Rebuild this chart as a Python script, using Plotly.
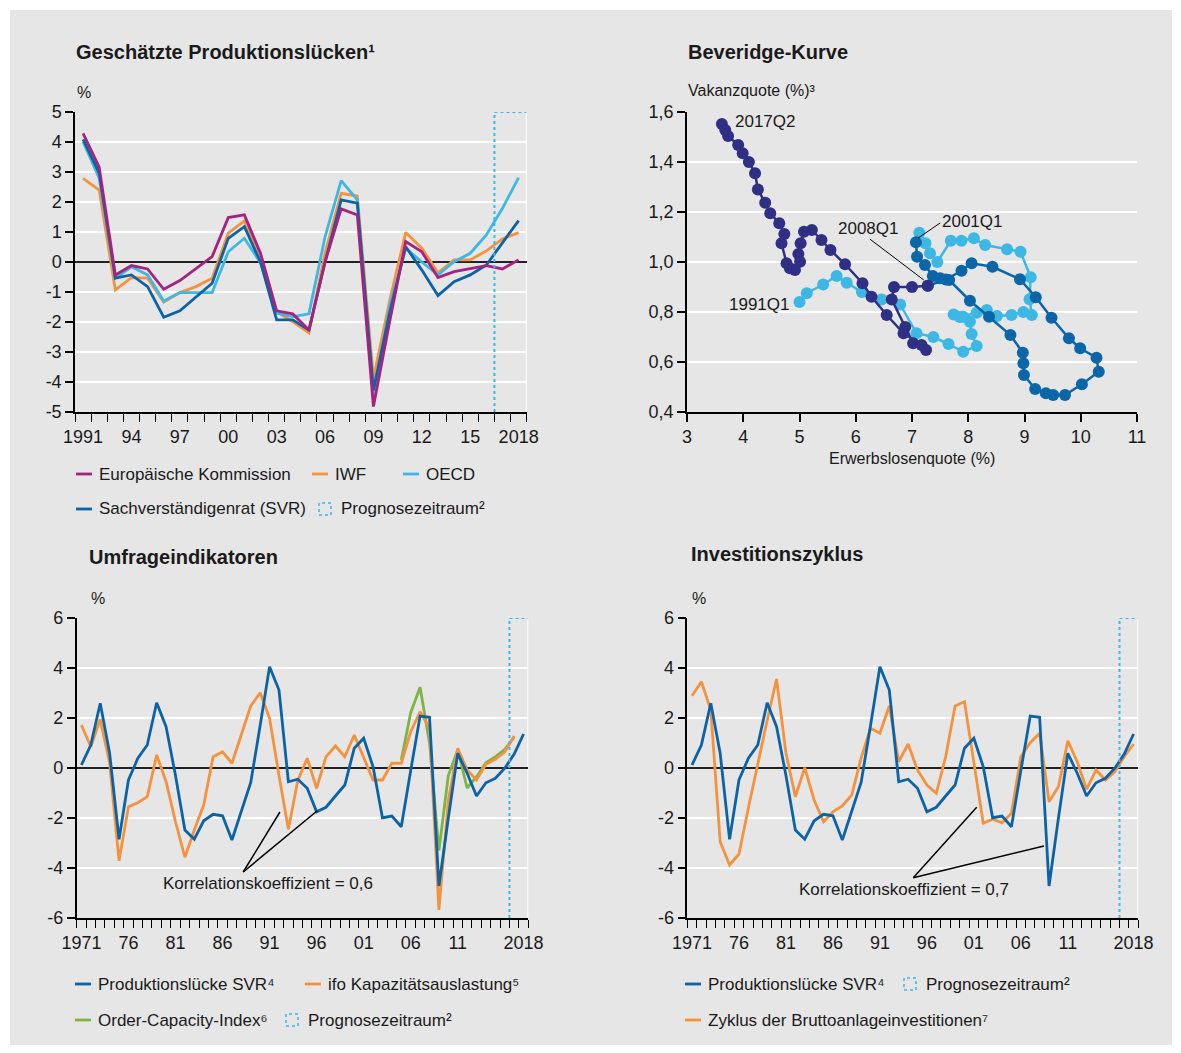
import plotly.graph_objects as go

W, H = 1181, 1053
def PX(x): return x / W
def PY(y): return 1 - y / H

FONT = "Liberation Sans"
TXT = "#1a1a1a"
C_EK = "#a3237f"
C_IWF = "#f5923e"
C_OECD = "#3db7e4"
C_SVR = "#0b63a6"
C_GREEN = "#7db544"
C_NAVY = "#2f2f86"
C_MID = "#0b66a8"
C_LIGHT = "#3db7e4"
BG = "#e6e6e6"

# ---------------- Data ----------------
years_tl = list(range(1991, 2019))
ek = [4.29, 3.16, -0.43, -0.12, -0.23, -0.91, -0.62, -0.21, 0.18, 1.48, 1.57, 0.29, -1.63, -1.73,
      -2.27, 0.0, 1.77, 1.57, -4.82, -2.0, 0.68, 0.34, -0.52, -0.32, -0.21, -0.12, -0.23, 0.07]
iwf = [2.79, 2.4, -0.93, -0.52, -0.54, -1.34, -1.02, -0.82, -0.54, 0.96, 1.37, 0.23, -1.66, -1.99,
       -2.36, 0.3, 2.29, 2.2, -3.88, -1.3, 0.98, 0.46, -0.36, 0.07, 0.07, 0.37, 0.77, 0.98]
oecd = [4.01, 2.79, -0.54, -0.16, -0.43, -1.3, -1.02, -1.02, -1.02, 0.34, 0.79, -0.03, -1.7, -1.82,
        -1.73, 0.84, 2.71, 2.07, -4.49, -1.5, 0.46, 0.0, -0.43, 0.01, 0.29, 0.9, 1.79, 2.81]
svr_tl = [4.09, 2.96, -0.54, -0.43, -0.82, -1.84, -1.63, -1.16, -0.71, 0.79, 1.18, 0.0, -1.93, -1.93,
          -2.27, 0.0, 2.07, 1.96, -4.27, -1.7, 0.51, -0.27, -1.12, -0.66, -0.43, -0.1, 0.62, 1.38]
tl_ticks = [1991, 1994, 1997, 2000, 2003, 2006, 2009, 2012, 2015, 2018]
tl_ticktext = ["1991", "94", "97", "00", "03", "06", "09", "12", "15", "2018"]
forecast_start = 2017

# Beveridge curve: unemployment rate (x), vacancy rate (y)
bev_9101_x = [5.00, 5.13, 5.42, 5.66, 5.84, 6.11, 6.46, 6.79, 7.08, 7.38, 7.65, 7.91, 8.15, 8.06, 8.03,
              7.91, 7.74, 7.85, 8.15, 8.33, 8.51, 8.77, 8.98, 9.13, 9.09, 9.11, 8.93, 8.69, 8.30, 8.10,
              7.88, 7.69, 7.45, 7.32, 7.24, 7.13]
bev_9101_y = [0.84, 0.875, 0.91, 0.944, 0.917, 0.88, 0.85, 0.83, 0.715, 0.70, 0.672, 0.641, 0.664, 0.712,
              0.761, 0.781, 0.79, 0.78, 0.797, 0.808, 0.784, 0.788, 0.80, 0.788, 0.851, 0.939, 1.041,
              1.051, 1.068, 1.095, 1.085, 1.085, 1.00, 1.035, 1.075, 1.117]
bev_0108_x = [7.07, 7.09, 7.23, 7.37, 7.50, 7.66, 8.03, 8.37, 8.75, 8.97, 8.98, 8.99, 9.19, 9.38, 9.51,
              9.72, 10.02, 10.32, 10.28, 9.99, 9.79, 9.48, 9.20, 8.92, 8.43, 8.06, 7.88, 7.60, 7.28]
bev_0108_y = [1.079, 1.021, 0.988, 0.944, 0.935, 0.928, 0.845, 0.781, 0.708, 0.637, 0.595, 0.548, 0.492,
              0.475, 0.468, 0.468, 0.511, 0.561, 0.617, 0.655, 0.695, 0.777, 0.859, 0.931, 0.981, 0.995,
              0.965, 0.93, 0.905]
bev_0817_x = [7.28, 7.00, 6.68, 6.64, 6.88, 7.02, 7.25, 7.17, 6.85, 6.55, 6.28, 6.12, 5.81, 5.55, 5.39,
              5.22, 5.08, 5.02, 4.98, 5.01, 4.92, 4.83, 4.77, 4.68, 4.73, 4.64, 4.48, 4.39, 4.26, 4.21,
              4.10, 3.99, 3.91, 3.73, 3.68, 3.62]
bev_0817_y = [0.905, 0.90, 0.90, 0.85, 0.74, 0.675, 0.648, 0.668, 0.715, 0.788, 0.861, 0.915, 0.991, 1.048,
              1.088, 1.128, 1.121, 1.075, 1.032, 1.001, 0.968, 0.975, 0.995, 1.075, 1.112, 1.155, 1.195,
              1.237, 1.29, 1.355, 1.40, 1.435, 1.468, 1.504, 1.528, 1.552]
bev_xticks = [3, 4, 5, 6, 7, 8, 9, 10, 11]
bev_yticks = [0.4, 0.6, 0.8, 1.0, 1.2, 1.4, 1.6]
bev_yticktext = ["0,4", "0,6", "0,8", "1,0", "1,2", "1,4", "1,6"]

years_b = list(range(1971, 2019))
svr_b = [0.12, 0.92, 2.59, 0.59, -2.85, -0.48, 0.39, 0.92, 2.61, 1.65,
         -0.3, -2.48, -2.85, -2.11, -1.85, -1.91, -2.88, -1.75, -0.58, 1.7,
         4.05, 3.12, -0.55, -0.45, -0.81, -1.75, -1.57, -1.12, -0.68, 0.79,
         1.19, 0.05, -1.99, -1.92, -2.35, -0.1, 2.08, 2.03, -4.72, -2.0,
         0.59, -0.21, -1.12, -0.59, -0.41, -0.01, 0.56, 1.36]
years_ifo = list(range(1971, 2018))
ifo = [1.72, 0.85, 1.95, 0.19, -3.71, -1.55, -1.39, -1.15, 0.52, -0.55,
       -2.15, -3.57, -2.48, -1.48, 0.45, 0.65, 0.19, 1.32, 2.48, 3.01,
       1.99, -0.3, -2.45, -0.5, 0.39, -0.81, 0.45, 0.88, 0.45, 1.32,
       0.39, -0.48, -0.48, 0.19, 0.19, 1.45, 2.25, 1.59, -5.68, -1.3,
       0.79, -0.08, -0.48, 0.15, 0.35, 0.65, 1.28]
years_oci = list(range(2005, 2018))
oci = [0.32, 2.21, 3.23, 1.0, -3.3, -0.3, 0.72, -0.8, -0.35, 0.21, 0.45, 0.75, 1.23]
invest = [2.89, 3.45, 2.32, -2.95, -3.88, -3.44, -1.6, 0.2, 1.9, 3.56,
          0.6, -1.15, 0.01, -1.28, -2.15, -1.75, -1.52, -1.08, 0.4, 1.59,
          1.39, 2.48, 0.25, 0.96, -0.08, -0.68, -1.01, 0.45, 2.48, 2.65,
          0.3, -2.21, -2.05, -2.19, -1.81, 0.45, 1.01, 1.39, -1.35, -0.75,
          1.09, 0.25, -0.85, -0.08, -0.48, -0.15, 0.45, 0.96]
b_ticks = [1971, 1976, 1981, 1986, 1991, 1996, 2001, 2006, 2011, 2018]
b_ticktext = ["1971", "76", "81", "86", "91", "96", "01", "06", "11", "2018"]

# ---------------- Figure ----------------
fig = go.Figure()
LW = 2.8

def ts(x, y, color, xa, ya):
    fig.add_trace(go.Scatter(x=x, y=y, mode="lines", line=dict(color=color, width=LW),
                             xaxis=xa, yaxis=ya, showlegend=False, hoverinfo="skip"))

# top-left
ts(years_tl, iwf, C_IWF, "x", "y")
ts(years_tl, oecd, C_OECD, "x", "y")
ts(years_tl, svr_tl, C_SVR, "x", "y")
ts(years_tl, ek, C_EK, "x", "y")

# Beveridge
for bx, by, c in [(bev_9101_x, bev_9101_y, C_LIGHT), (bev_0108_x, bev_0108_y, C_MID),
                  (bev_0817_x, bev_0817_y, C_NAVY)]:
    fig.add_trace(go.Scatter(x=bx, y=by, mode="lines+markers", line=dict(color=c, width=2.5),
                             marker=dict(color=c, size=12), xaxis="x2", yaxis="y2",
                             showlegend=False, hoverinfo="skip"))

# bottom-left
ts(years_oci, oci, C_GREEN, "x3", "y3")
ts(years_ifo, ifo, C_IWF, "x3", "y3")
ts(years_b, svr_b, C_SVR, "x3", "y3")

# bottom-right
ts(years_b, invest, C_IWF, "x4", "y4")
ts(years_b, svr_b, C_SVR, "x4", "y4")

tickfont = dict(family=FONT, size=18, color=TXT)

def year_axis(first, last, tv, tt, dom):
    return dict(domain=dom, range=[first - 0.5, last + 0.5], tickmode="array", tickvals=tv, ticktext=tt,
                ticks="", showgrid=False, zeroline=False, showline=True, linecolor="black", linewidth=1.5,
                tickfont=tickfont, ticklabelstandoff=8, fixedrange=True, automargin=False,
                minor=dict(tickmode="array", tickvals=[v - 0.5 for v in range(first, last + 2)],
                           ticks="outside", ticklen=8, tickcolor="black", tickwidth=1.3, showgrid=False))

def val_axis(lo, hi, tv, tt, dom, anchor):
    return dict(domain=dom, range=[lo, hi], tickmode="array", tickvals=tv, ticktext=tt,
                ticks="outside", ticklen=8, tickcolor="black", tickwidth=1.5, showgrid=True,
                gridcolor="white", gridwidth=2, showline=True, linecolor="black", linewidth=1.5,
                zeroline=True, zerolinecolor="#222222", zerolinewidth=2, tickfont=tickfont,
                anchor=anchor, fixedrange=True, automargin=False)

ytop = [PY(412), PY(112)]
ybot = [PY(918), PY(618)]

tl_y = list(range(-5, 6))
b_y = list(range(-6, 7, 2))

fig.update_layout(
    width=W, height=H, margin=dict(l=0, r=0, t=0, b=0, pad=0, autoexpand=False),
    paper_bgcolor="white", plot_bgcolor="rgba(0,0,0,0)",
    font=dict(family=FONT, size=17, color=TXT),
    xaxis=year_axis(1991, 2018, tl_ticks, tl_ticktext, [PX(75), PX(526.7)]) | dict(anchor="y"),
    yaxis=val_axis(-5, 5, tl_y, [str(v) if v >= 0 else "-" + str(-v) for v in tl_y], ytop, "x"),
    xaxis2=dict(domain=[PX(687), PX(1137)], range=[3, 11], tickmode="array", tickvals=bev_xticks,
                ticks="outside", ticklen=8, tickcolor="black", tickwidth=1.5, showgrid=False,
                zeroline=False, showline=True, linecolor="black", linewidth=1.5, tickfont=tickfont,
                anchor="y2", fixedrange=True, automargin=False),
    yaxis2=dict(domain=ytop, range=[0.4, 1.6], tickmode="array", tickvals=bev_yticks,
                ticktext=bev_yticktext, ticks="outside", ticklen=8, tickcolor="black", tickwidth=1.5,
                showgrid=True, gridcolor="white", gridwidth=2, showline=True, linecolor="black",
                linewidth=1.5, zeroline=False, tickfont=tickfont, anchor="x2", fixedrange=True,
                automargin=False),
    xaxis3=year_axis(1971, 2018, b_ticks, b_ticktext, [PX(76.7), PX(528.3)]) | dict(anchor="y3"),
    yaxis3=val_axis(-6, 6, b_y, [str(v) if v >= 0 else "-" + str(-v) for v in b_y], ybot, "x3"),
    xaxis4=year_axis(1971, 2018, b_ticks, b_ticktext, [PX(687.3), PX(1138.3)]) | dict(anchor="y4"),
    yaxis4=val_axis(-6, 6, b_y, [str(v) if v >= 0 else "-" + str(-v) for v in b_y], ybot, "x4"),
)

shapes = []
# background panel
shapes.append(dict(type="rect", xref="paper", yref="paper", x0=PX(10), x1=PX(1172), y0=PY(1045), y1=PY(10),
                   fillcolor=BG, line=dict(width=0), layer="below"))

# right white edges and forecast boxes
for xa, ya, lo, hi, last in [("x", "y", -5, 5, 2018), ("x3", "y3", -6, 6, 2018), ("x4", "y4", -6, 6, 2018)]:
    shapes.append(dict(type="line", xref=xa, yref=ya, x0=last + 0.5, x1=last + 0.5, y0=lo, y1=hi,
                       line=dict(color="white", width=2), layer="below"))
    shapes.append(dict(type="line", xref=xa, yref=ya, x0=forecast_start - 0.5, x1=forecast_start - 0.5,
                       y0=lo, y1=hi, line=dict(color=C_OECD, width=2, dash="dot"), layer="above"))
    shapes.append(dict(type="line", xref=xa, yref=ya, x0=forecast_start - 0.5, x1=last + 0.5,
                       y0=hi, y1=hi, line=dict(color=C_OECD, width=2, dash="dot"), layer="above"))

# Beveridge callout lines
shapes.append(dict(type="line", xref="x2", yref="y2", x0=6.25, y0=1.092, x1=7.21, y1=0.928,
                   line=dict(color="black", width=1)))
shapes.append(dict(type="line", xref="x2", yref="y2", x0=7.50, y0=1.156, x1=7.11, y1=1.096,
                   line=dict(color="black", width=1)))

# correlation callout lines
for xa, ya, (x0, y0), targets in [
    ("x3", "y3", (1988.2, -4.16), [(1992.1, -1.76), (1996.07, -1.71)]),
    ("x4", "y4", (1994.55, -4.39), [(2001.3, -1.57), (2008.46, -3.12)])]:
    for (x1, y1) in targets:
        shapes.append(dict(type="line", xref=xa, yref=ya, x0=x0, y0=y0, x1=x1, y1=y1,
                           line=dict(color="black", width=1.5)))

ann = []
def text(x, y, s, size=17, anchor="left", bold=False, xref="paper", yref="paper", yanchor="middle"):
    ann.append(dict(x=x, y=y, xref=xref, yref=yref, text=("<b>%s</b>" % s) if bold else s,
                    showarrow=False, xanchor=anchor, yanchor=yanchor,
                    font=dict(family=FONT, size=size, color=TXT)))

# titles
text(PX(74), PY(52), "Geschätzte Produktionslücken¹", size=20, bold=True)
text(PX(686), PY(52), "Beveridge-Kurve", size=20, bold=True)
text(PX(87), PY(557), "Umfrageindikatoren", size=20, bold=True)
text(PX(689), PY(554), "Investitionszyklus", size=20, bold=True)

# units
text(PX(75), PY(93), "%", size=16)
text(PX(89), PY(598), "%", size=16)
text(PX(690), PY(598), "%", size=16)
text(PX(686), PY(90), "Vakanzquote (%)³", size=16)
text(PX(912), PY(458), "Erwerbslosenquote (%)", size=16, anchor="center")

# Beveridge labels
text(3.82, 1.56, "2017Q2", xref="x2", yref="y2")
text(6.22, 1.135, "2008Q1", xref="x2", yref="y2", anchor="center")
text(7.50, 1.16, "2001Q1", xref="x2", yref="y2")
text(4.87, 0.83, "1991Q1", xref="x2", yref="y2", anchor="right")

# correlation labels
text(1990.83, -4.6, "Korrelationskoeffizient = 0,6", xref="x3", yref="y3", anchor="center")
text(1993.56, -4.84, "Korrelationskoeffizient = 0,7", xref="x4", yref="y4", anchor="center")

# legends
def leg_line(x0, y, color, label):
    shapes.append(dict(type="line", xref="paper", yref="paper", x0=PX(x0), x1=PX(x0 + 16), y0=PY(y), y1=PY(y),
                       line=dict(color=color, width=2.8)))
    text(PX(x0 + 21), PY(y), label)

def leg_box(x0, y, label):
    shapes.append(dict(type="rect", xref="paper", yref="paper", x0=PX(x0), x1=PX(x0 + 12),
                       y0=PY(y + 6), y1=PY(y - 6), line=dict(color=C_OECD, width=1.5, dash="dot"),
                       fillcolor="rgba(0,0,0,0)"))
    text(PX(x0 + 20), PY(y), label)

leg_line(76, 474, C_EK, "Europäische Kommission")
leg_line(312, 474, C_IWF, "IWF")
leg_line(403, 474, C_OECD, "OECD")
leg_line(76, 509, C_SVR, "Sachverständigenrat (SVR)")
leg_box(319, 509, "Prognosezeitraum²")

leg_line(75, 984, C_SVR, "Produktionslücke SVR⁴")
leg_line(305, 984, C_IWF, "ifo Kapazitätsauslastung⁵")
leg_line(75, 1020, C_GREEN, "Order-Capacity-Index⁶")
leg_box(286, 1020, "Prognosezeitraum²")

leg_line(685, 984, C_SVR, "Produktionslücke SVR⁴")
leg_box(904, 984, "Prognosezeitraum²")
leg_line(685, 1020, C_IWF, "Zyklus der Bruttoanlageinvestitionen⁷")

fig.update_layout(shapes=shapes, annotations=ann)

fig.write_html("out.html", include_plotlyjs=True, config={"displayModeBar": False},
               post_script="document.body.style.margin='0';")
